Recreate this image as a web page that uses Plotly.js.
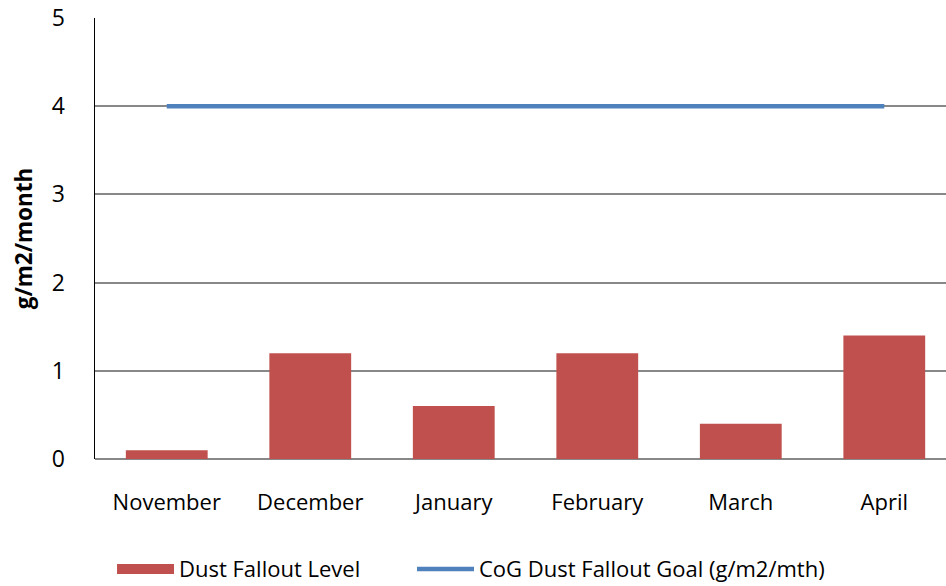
<!DOCTYPE html>
<html><head><meta charset="utf-8">
<script src="https://cdn.plot.ly/plotly-3.0.1.min.js"></script>
<style>html,body{margin:0;padding:0;background:#fff}</style>
</head><body>
<div id="chart" style="width:946px;height:586px"></div>
<script>
const months = ["November","December","January","February","March","April"];
const dustFallout = [0.1, 1.2, 0.6, 1.2, 0.4, 1.4];
const goal = [4, 4, 4, 4, 4, 4];
const yTicks = [0,1,2,3,4,5];

const fontFam = '"Open Sans", "Noto Sans", sans-serif';
const data = [
  {type:'bar', name:'Dust Fallout Level', x:months, y:dustFallout, showlegend:false,
   legendgroup:'dust', marker:{color:'#C0504D', line:{width:0}}},
  {type:'scatter', mode:'lines', name:'Dust Fallout Level', x:[months[0]], y:[null],
   legendgroup:'dust', line:{color:'#C0504D', width:15}, showlegend:true, legend:'legend'},
  {type:'scatter', mode:'lines', name:'CoG Dust Fallout Goal (g/m2/mth)', x:months, y:goal,
   line:{color:'#4F81BD', width:4.5}, legend:'legend2'}
];
const legendBase = {orientation:'h', xanchor:'left', y:-0.202, yanchor:'top',
                    font:{size:22}, itemwidth:57, bgcolor:'rgba(0,0,0,0)'};
const layout = {
  width:946, height:586,
  margin:{l:95, r:0, t:18, b:127, autoexpand:false},
  paper_bgcolor:'#fff', plot_bgcolor:'#fff',
  bargap:0.43,
  font:{family:fontFam, size:22, color:'#000'},
  xaxis:{range:[-0.5,5.43], showgrid:false, zeroline:false, showline:false,
         ticks:'', ticklabelstandoff:28, tickfont:{size:22}},
  yaxis:{range:[0,5], tickvals:yTicks, showgrid:true, gridcolor:'#888888', gridwidth:2,
         zeroline:true, zerolinecolor:'#888888', zerolinewidth:2,
         showline:true, linecolor:'#000', linewidth:1.5, ticks:'', ticklabelstandoff:24,
         tickfont:{size:23},
         title:{text:'<b>g/m2/month</b>', font:{size:22.5}, standoff:13}},
  legend:Object.assign({}, legendBase, {x:0.02}),
  legend2:Object.assign({}, legendBase, {x:0.3725}),
  showlegend:true
};
Plotly.newPlot('chart', data, layout, {displayModeBar:false, staticPlot:true});
</script>
</body></html>
